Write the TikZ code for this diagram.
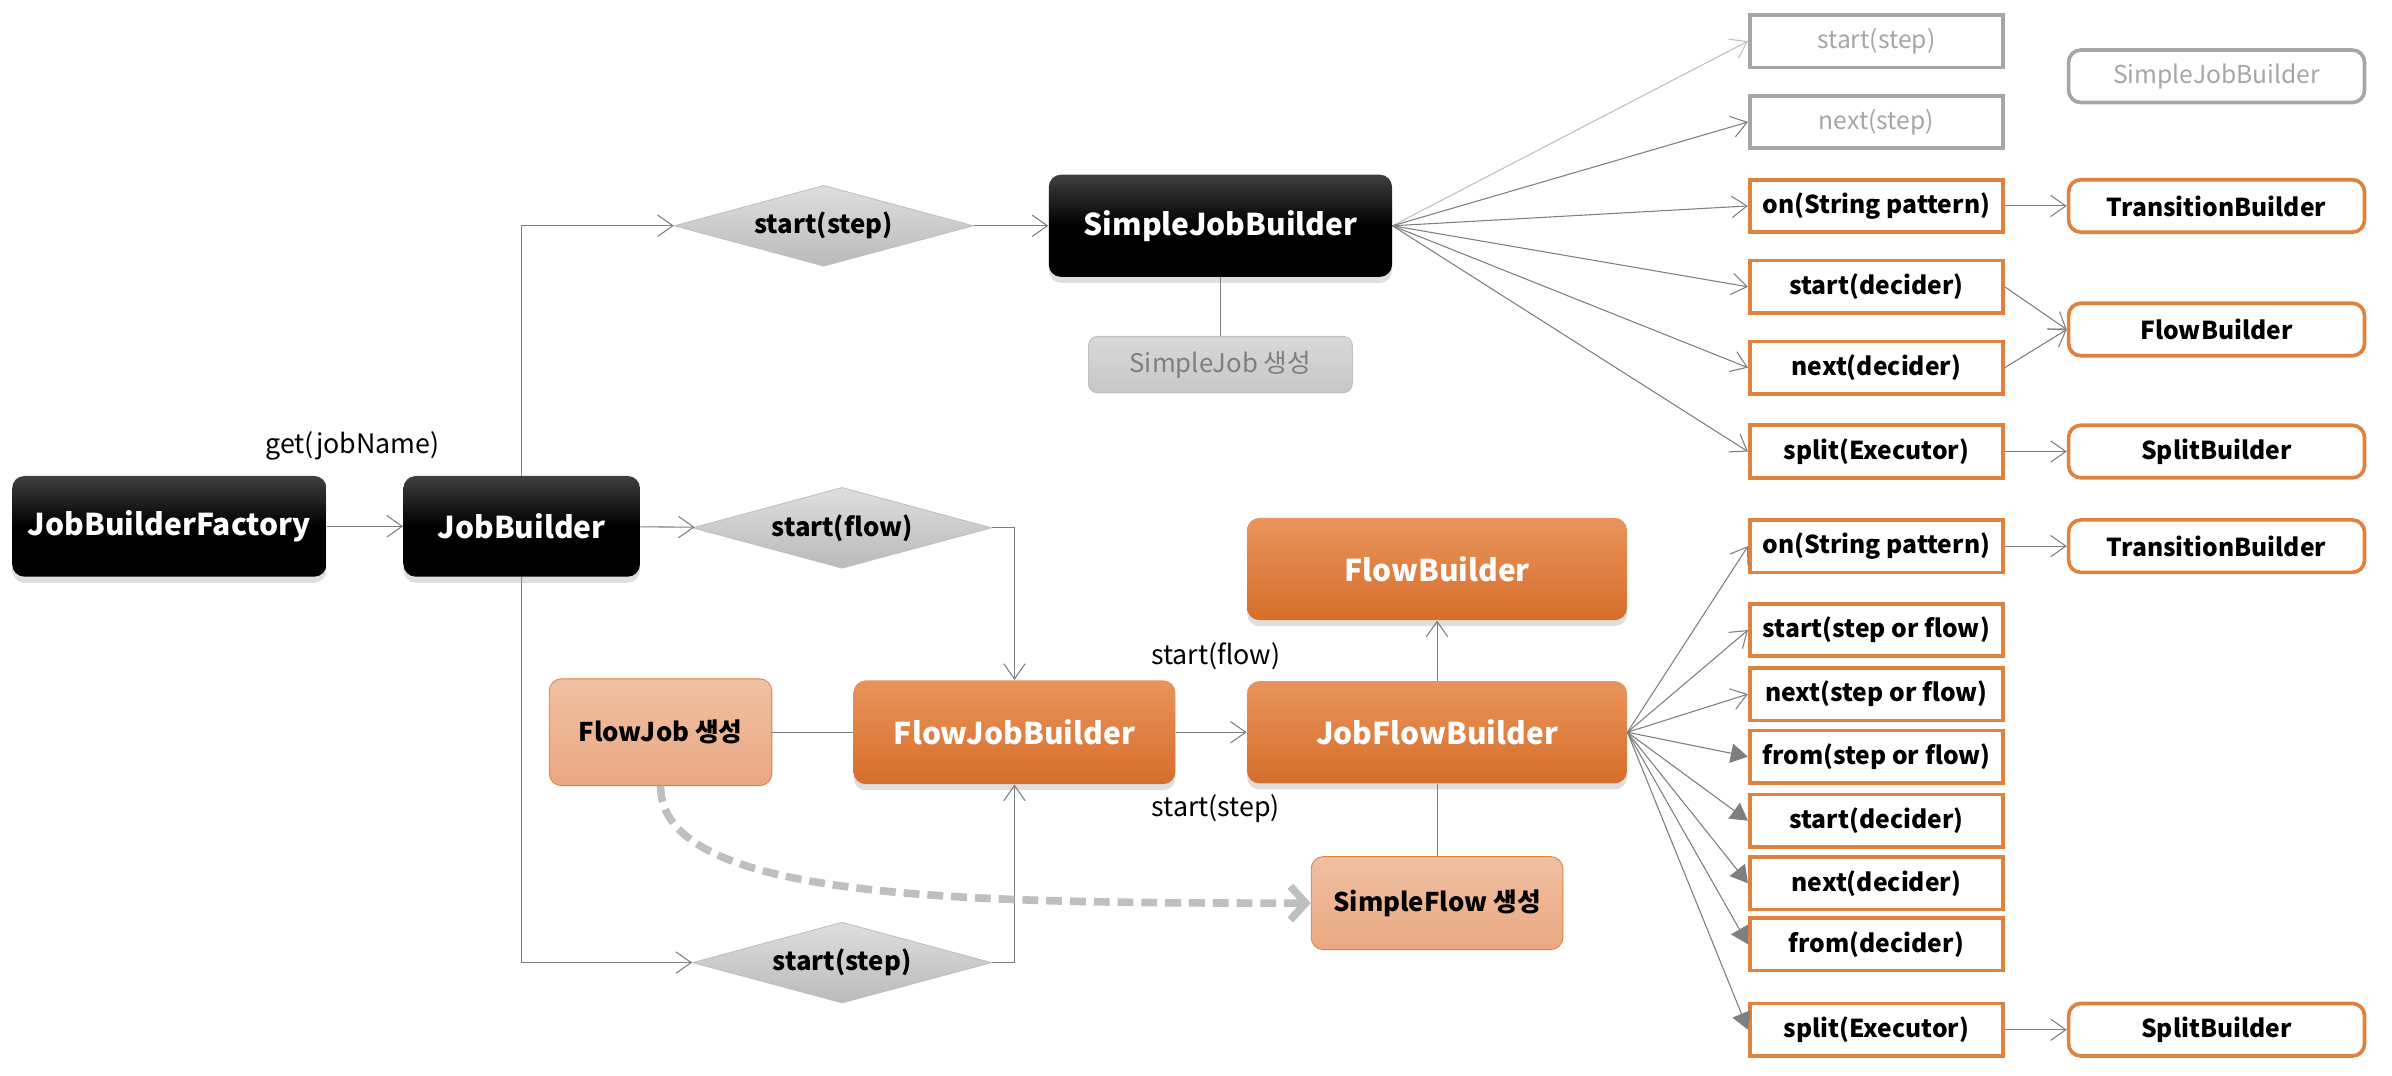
\documentclass[tikz,border=0pt]{standalone}
\usepackage{fontspec}
\setmainfont{Noto Sans CJK KR}
\usetikzlibrary{shapes.geometric, arrows.meta, positioning, shadows}
\definecolor{lineGray}{RGB}{127,127,127}
\definecolor{lightGray}{RGB}{191,191,191}
\definecolor{boxGray}{RGB}{166,166,166}
\definecolor{orangeLine}{RGB}{224,130,61}
\definecolor{orangeTop}{RGB}{233,148,92}
\definecolor{orangeBottom}{RGB}{214,110,42}
\definecolor{paleTop}{RGB}{240,192,162}
\definecolor{paleBottom}{RGB}{234,168,130}
\tikzstyle{blackbox} = [rectangle, rounded corners=2mm, minimum height=16.5mm, text centered, top color=black!75, bottom color=black, middle color=black, text=white, font=\bfseries\fontsize{14}{16}\selectfont, drop shadow={opacity=0.25, shadow xshift=0mm, shadow yshift=-1mm}]
\tikzstyle{orangebox} = [rectangle, rounded corners=2mm, minimum height=16.75mm, text centered, top color=orangeTop, bottom color=orangeBottom, text=white, font=\bfseries\fontsize{14}{16}\selectfont, drop shadow={opacity=0.25, shadow xshift=0mm, shadow yshift=-1mm}]
\tikzstyle{palebox} = [rectangle, rounded corners=2mm, text centered, draw=orangeLine, top color=paleTop, bottom color=paleBottom, text=black, font=\bfseries\fontsize{12}{14}\selectfont]
\tikzstyle{graygen} = [rectangle, rounded corners=1.5mm, minimum width=43.25mm, minimum height=9.25mm, draw=lightGray, top color=black!15, bottom color=black!22, text=lineGray, font=\fontsize{12}{14}\selectfont]
\tikzstyle{diamondbox} = [diamond, aspect=3.7, inner sep=0pt, minimum width=49mm, minimum height=13.25mm, draw=lightGray, top color=black!13, bottom color=black!27, font=\bfseries\fontsize{12}{14}\selectfont]
\tikzstyle{methodbox} = [rectangle, draw=orangeLine, line width=0.6mm, fill=white, minimum width=41.5mm, minimum height=8.6mm, inner sep=1pt, font=\bfseries\fontsize{11.5}{13}\selectfont]
\tikzstyle{graymethod} = [methodbox, draw=boxGray, text=boxGray, font=\fontsize{11.5}{13}\selectfont]
\tikzstyle{builderbox} = [methodbox, rounded corners=2mm, minimum width=48.5mm]
\tikzstyle{graybuilder} = [graymethod, rounded corners=2mm, minimum width=48.5mm]
\tikzstyle{label} = [font=\fontsize{12.5}{14}\selectfont]
\tikzstyle{line} = [draw=lineGray, line width=0.5pt]
\tikzstyle{arrow} = [line, -{Straight Barb[length=2.5mm,width=3.5mm]}]
\tikzstyle{lightarrow} = [arrow, draw=lightGray]
\tikzstyle{filledarrow} = [line, -{Triangle[length=2.8mm,width=3.2mm]}, fill=lineGray]
\tikzstyle{dasharrow} = [draw=lightGray, line width=1.25mm, dash pattern=on 2.6mm off 1.3mm, -{Straight Barb[length=2.5mm,width=5.5mm]}]

\begin{document}
\begin{tikzpicture}[x=0.25mm, y=-0.25mm]
\useasboundingbox (0,0) rectangle (1568,705.3);

\node (factory) [blackbox, minimum width=51.5mm] at (111,345) {JobBuilderFactory};
\node (jobbuilder) [blackbox, minimum width=38.75mm] at (342,345) {JobBuilder};
\node (getlabel) [label] at (231,292) {get(jobName)};
\node (diastep) [diamondbox] at (540,148) {start(step)};
\node (simplejob) [blackbox, minimum width=56.25mm, minimum height=16.75mm] at (800,148) {SimpleJobBuilder};
\node (simplejobgen) [graygen] at (800,239) {SimpleJob 생성};
\node (diaflow) [diamondbox] at (552,346) {start(flow)};
\node (diastepb) [diamondbox] at (552,631) {start(step)};
\node (flowjob) [orangebox, minimum width=52.75mm, minimum height=17mm] at (665,480) {FlowJobBuilder};
\node (flowjobgen) [palebox, minimum width=36.5mm, minimum height=17.5mm] at (433,480) {FlowJob 생성};
\node (jobflow) [orangebox, minimum width=62.25mm] at (942,480) {JobFlowBuilder};
\node (flowbuilder) [orangebox, minimum width=62.25mm] at (942,373) {FlowBuilder};
\node (simpleflowgen) [palebox, minimum width=41.25mm, minimum height=15.25mm] at (942,592) {SimpleFlow 생성};
\node (startflowlabel) [label] at (797,430) {start(flow)};
\node (startsteplabel) [label] at (797,530) {start(step)};

\node (sstart) [graymethod] at (1230,27) {start(step)};
\node (snext) [graymethod] at (1230,80) {next(step)};
\node (son) [methodbox] at (1230,135) {on(String pattern)};
\node (sstartdec) [methodbox] at (1230,188) {start(decider)};
\node (snextdec) [methodbox] at (1230,241) {next(decider)};
\node (ssplit) [methodbox] at (1230,296) {split(Executor)};
\node (sjobbuilder) [graybuilder] at (1453,50) {SimpleJobBuilder};
\node (stransition) [builderbox] at (1453,135) {TransitionBuilder};
\node (sflowbuilder) [builderbox] at (1453,216) {FlowBuilder};
\node (ssplitbuilder) [builderbox] at (1453,296) {SplitBuilder};

\node (fon) [methodbox] at (1230,358) {on(String pattern)};
\node (fstart) [methodbox] at (1230,413) {start(step or flow)};
\node (fnext) [methodbox] at (1230,455) {next(step or flow)};
\node (ffrom) [methodbox] at (1230,496) {from(step or flow)};
\node (fstartdec) [methodbox] at (1230,538) {start(decider)};
\node (fnextdec) [methodbox] at (1230,579) {next(decider)};
\node (ffromdec) [methodbox] at (1230,619) {from(decider)};
\node (fsplit) [methodbox] at (1230,675) {split(Executor)};
\node (ftransition) [builderbox] at (1453,358) {TransitionBuilder};
\node (fsplitbuilder) [builderbox] at (1453,675) {SplitBuilder};

\draw [arrow] (factory) -- (jobbuilder);
\draw [arrow] (jobbuilder.north) |- (diastep.west);
\draw [arrow] (diastep) -- (simplejob);
\draw [line] (simplejob) -- (simplejobgen);
\draw [arrow] (jobbuilder) -- (diaflow);
\draw [arrow] (diaflow.east) -| (flowjob.north);
\draw [arrow] (jobbuilder.south) |- (diastepb.west);
\draw [arrow] (diastepb.east) -| (flowjob.south);
\draw [line] (flowjobgen) -- (flowjob);
\draw [arrow] (flowjob) -- (jobflow);
\draw [arrow] (jobflow) -- (flowbuilder);
\draw [line] (jobflow) -- (simpleflowgen);
\draw [dasharrow] (flowjobgen.south) .. controls +(0,75) and +(-230,0) .. (simpleflowgen.west);

\draw [lightarrow] (simplejob.east) -- (sstart.west);
\draw [arrow] (simplejob.east) -- (snext.west);
\draw [arrow] (simplejob.east) -- (son.west);
\draw [arrow] (simplejob.east) -- (sstartdec.west);
\draw [arrow] (simplejob.east) -- (snextdec.west);
\draw [arrow] (simplejob.east) -- (ssplit.west);
\draw [arrow] (son) -- (stransition);
\draw [arrow] (sstartdec.east) -- (sflowbuilder.west);
\draw [arrow] (snextdec.east) -- (sflowbuilder.west);
\draw [arrow] (ssplit) -- (ssplitbuilder);

\draw [arrow] (jobflow.east) -- (fon.west);
\draw [arrow] (jobflow.east) -- (fstart.west);
\draw [arrow] (jobflow.east) -- (fnext.west);
\draw [filledarrow] (jobflow.east) -- (ffrom.west);
\draw [filledarrow] (jobflow.east) -- (fstartdec.west);
\draw [filledarrow] (jobflow.east) -- (fnextdec.west);
\draw [filledarrow] (jobflow.east) -- (ffromdec.west);
\draw [filledarrow] (jobflow.east) -- (fsplit.west);
\draw [arrow] (fon) -- (ftransition);
\draw [arrow] (fsplit) -- (fsplitbuilder);
\end{tikzpicture}
\end{document}
